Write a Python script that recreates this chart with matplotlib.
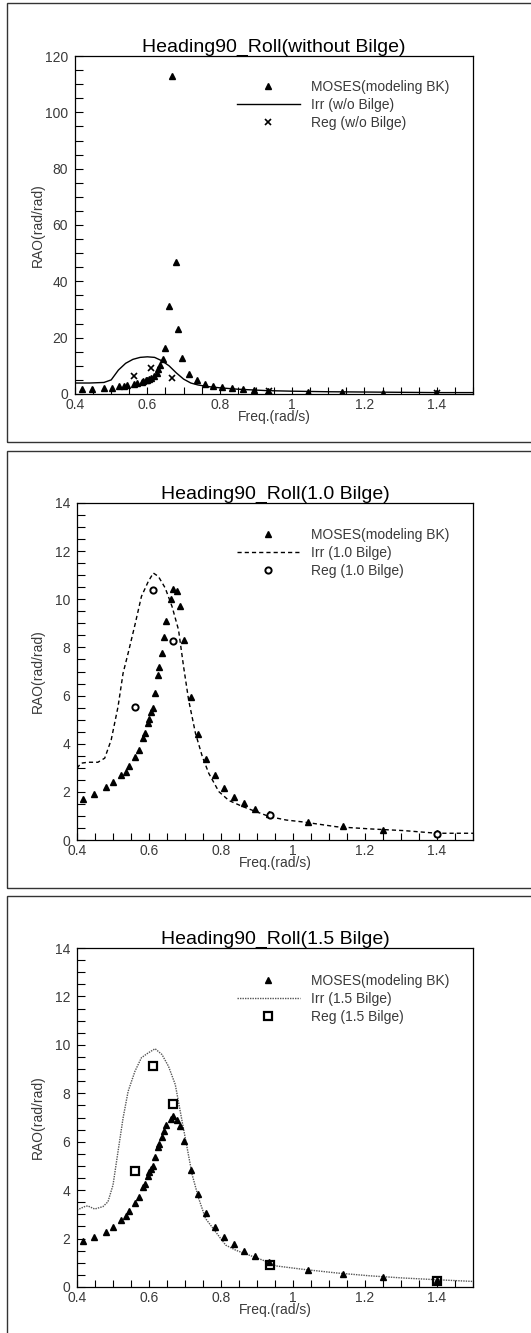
import numpy as np
import matplotlib
matplotlib.use('Agg')
import matplotlib.pyplot as plt
from matplotlib.ticker import MultipleLocator, FuncFormatter
from matplotlib.patches import Rectangle

plt.rcParams['font.family'] = ['Liberation Sans', 'DejaVu Sans']

# MOSES frequencies (shared by the three panels)
moses_freq = [0.418, 0.448, 0.481, 0.501, 0.522, 0.535, 0.545, 0.562, 0.571, 0.584,
              0.589, 0.596, 0.599, 0.605, 0.610, 0.617, 0.626, 0.629, 0.636, 0.643,
              0.648, 0.660, 0.667, 0.678, 0.685, 0.697, 0.716, 0.737, 0.759, 0.782,
              0.807, 0.835, 0.864, 0.895, 0.933, 1.043, 1.138, 1.251, 1.399]
moses_nobilge = [1.7, 1.8, 2.0, 2.3, 2.7, 2.9, 3.1, 3.6, 3.8, 4.3,
                 4.5, 4.9, 5.1, 5.4, 5.8, 6.5, 7.6, 8.7, 10.3, 12.6,
                 16.5, 31.3, 112.9, 46.8, 23.2, 12.9, 7.2, 5.1, 3.5, 3.0,
                 2.5, 2.1, 1.7, 1.4, 1.2, 0.8, 0.6, 0.4, 0.3]
moses_bilge10 = [1.70, 1.93, 2.19, 2.40, 2.68, 2.84, 3.06, 3.45, 3.72, 4.23,
                 4.44, 4.84, 5.02, 5.30, 5.50, 6.10, 6.86, 7.17, 7.76, 8.43,
                 9.11, 10.02, 10.44, 10.33, 9.72, 8.29, 5.93, 4.39, 3.37, 2.70,
                 2.18, 1.80, 1.54, 1.29, 1.08, 0.75, 0.58, 0.43, 0.28]
moses_bilge15 = [1.88, 2.05, 2.28, 2.47, 2.78, 2.93, 3.12, 3.48, 3.70, 4.13,
                 4.27, 4.59, 4.74, 4.88, 5.00, 5.35, 5.78, 5.90, 6.18, 6.43,
                 6.68, 6.95, 7.05, 6.91, 6.65, 6.03, 4.84, 3.84, 3.07, 2.49,
                 2.06, 1.76, 1.48, 1.26, 1.04, 0.69, 0.54, 0.41, 0.28]

# regular wave test points
reg_freq = [0.562, 0.610, 0.667, 0.935, 1.400]
reg_nobilge = [6.5, 9.1, 5.8, 1.0, 0.25]
reg_bilge10 = [5.53, 10.37, 8.26, 1.04, 0.25]
reg_bilge15 = [4.77, 9.12, 7.56, 0.91, 0.23]

# irregular wave curves
irr_freq_nobilge = [0.40, 0.44, 0.48, 0.50, 0.52, 0.54, 0.56, 0.58, 0.60, 0.62, 0.64, 0.66, 0.68,
                    0.70, 0.72, 0.74, 0.77, 0.80, 0.85, 0.93, 1.00, 1.10, 1.20, 1.30, 1.40, 1.50]
irr_nobilge = [3.9, 3.9, 4.1, 5.0, 8.5, 10.9, 12.3, 13.0, 13.2, 13.0, 11.8, 10.0, 7.5,
               5.3, 3.9, 3.2, 2.6, 2.2, 1.7, 1.2, 1.0, 0.8, 0.7, 0.6, 0.5, 0.5]
irr_freq_bilge10 = [0.400, 0.411, 0.430, 0.458, 0.477, 0.495, 0.514, 0.528, 0.542, 0.561, 0.579,
                    0.598, 0.612, 0.626, 0.645, 0.664, 0.682, 0.696, 0.710, 0.729, 0.748, 0.766,
                    0.794, 0.822, 0.860, 0.897, 0.935, 0.981, 1.028, 1.121, 1.215, 1.308, 1.400, 1.500]
irr_bilge10 = [2.98, 3.19, 3.23, 3.23, 3.40, 4.16, 5.54, 6.93, 7.76, 8.94, 10.12,
               10.74, 11.09, 10.95, 10.47, 9.70, 8.73, 7.21, 5.82, 4.44, 3.47, 2.77,
               2.01, 1.64, 1.39, 1.18, 0.97, 0.83, 0.75, 0.55, 0.46, 0.39, 0.28, 0.28]
irr_freq_bilge15 = [0.400, 0.421, 0.430, 0.449, 0.472, 0.486, 0.500, 0.514, 0.528, 0.542, 0.561,
                    0.579, 0.598, 0.617, 0.636, 0.654, 0.673, 0.692, 0.706, 0.720, 0.738, 0.757,
                    0.785, 0.813, 0.841, 0.879, 0.916, 0.953, 1.028, 1.121, 1.215, 1.308, 1.400, 1.500]
irr_bilge15 = [3.18, 3.32, 3.35, 3.22, 3.32, 3.52, 4.21, 5.60, 6.98, 8.08, 8.91,
               9.47, 9.67, 9.84, 9.60, 9.12, 8.36, 6.84, 5.74, 4.63, 3.66, 2.83,
               2.28, 1.73, 1.52, 1.31, 1.11, 0.87, 0.73, 0.58, 0.46, 0.37, 0.30, 0.23]

W, H = 531, 1333
fig = plt.figure(figsize=(W / 100, H / 100), dpi=100)

def fx(px):
    return px / W

def fy(py):
    return 1 - py / H

# panel frames
for top, bot in [(3, 442), (451, 888), (896, 1345)]:
    fig.patches.append(Rectangle((fx(7), fy(bot)), fx(540) - fx(7), fy(top) - fy(bot),
                                 transform=fig.transFigure, fill=False,
                                 edgecolor='#333333', lw=1.0))

grey = '#3a3a3a'

def panel(rect, title, ymax, ymajor, yminor, irr_f, irr_v, irr_style, irr_color,
          moses_v, reg_v, reg_marker, labels, leg_top):
    l, t, r, b = rect
    ax = fig.add_axes([fx(l), fy(b), fx(r) - fx(l), fy(t) - fy(b)])
    ax.plot(moses_freq, moses_v, '^', color='black', ms=4.5, ls='none', label=labels[0], zorder=3)
    ax.plot(irr_f, irr_v, color=irr_color, ls=irr_style, lw=1.0, label=labels[1], zorder=2)
    mk = dict(ls='none', color='black', zorder=4)
    if reg_marker == 'x':
        mk.update(marker='x', ms=4.5, mew=1.2)
    elif reg_marker == 'o':
        mk.update(marker='o', ms=4.5, mfc='white', mew=1.4)
    else:
        mk.update(marker='s', ms=6, mfc='none', mew=1.6)
    ax.plot(reg_freq, reg_v, label=labels[2], **mk)

    ax.set_xlim(0.4, 1.5)
    ax.set_ylim(0, ymax)
    ax.xaxis.set_major_locator(MultipleLocator(0.2))
    ax.xaxis.set_minor_locator(MultipleLocator(0.05))
    ax.yaxis.set_major_locator(MultipleLocator(ymajor))
    ax.yaxis.set_minor_locator(MultipleLocator(yminor))
    ax.xaxis.set_major_formatter(FuncFormatter(lambda v, p: '%g' % round(v, 2)))
    ax.tick_params(which='both', direction='in', top=False, right=False,
                   labelsize=10, labelcolor=grey, width=0.8)
    ax.tick_params(axis='y', which='both', length=6, pad=5)
    ax.tick_params(axis='x', which='both', length=5, pad=3)
    for s in ax.spines.values():
        s.set_linewidth(0.9)

    ax.set_title(title, fontsize=14, pad=1.5)
    ax.set_ylabel('RAO(rad/rad)', fontsize=10, color=grey)
    ax.set_xlabel('Freq.(rad/s)', fontsize=10, color=grey)
    ax.yaxis.set_label_coords((45 - l) / (r - l), 0.5)
    ax.xaxis.set_label_coords(0.5, -(410 - 394) / (b - t))

    ax.legend(loc='upper left', bbox_to_anchor=(fx(237), fy(leg_top)),
              bbox_transform=fig.transFigure, frameon=False, fontsize=10,
              handlelength=4.5, handletextpad=0.8, labelspacing=0.3,
              borderpad=0, borderaxespad=0, labelcolor=grey)
    return ax

panel((75, 56, 473, 394), 'Heading90_Roll(without Bilge)', 120, 20, 5,
      irr_freq_nobilge, irr_nobilge, '-', 'black', moses_nobilge, reg_nobilge, 'x',
      ['MOSES(modeling BK)', 'Irr (w/o Bilge)', 'Reg (w/o Bilge)'], 80)
panel((77, 503, 473, 840), 'Heading90_Roll(1.0 Bilge)', 14, 2, 0.5,
      irr_freq_bilge10, irr_bilge10, (0, (3, 2.2)), 'black', moses_bilge10, reg_bilge10, 'o',
      ['MOSES(modeling BK)', 'Irr (1.0 Bilge)', 'Reg (1.0 Bilge)'], 528)
panel((77, 948, 473, 1287), 'Heading90_Roll(1.5 Bilge)', 14, 2, 0.5,
      irr_freq_bilge15, irr_bilge15, (0, (1, 0.8)), '#555555', moses_bilge15, reg_bilge15, 's',
      ['MOSES(modeling BK)', 'Irr (1.5 Bilge)', 'Reg (1.5 Bilge)'], 974)

fig.savefig('out.png', dpi=100)
